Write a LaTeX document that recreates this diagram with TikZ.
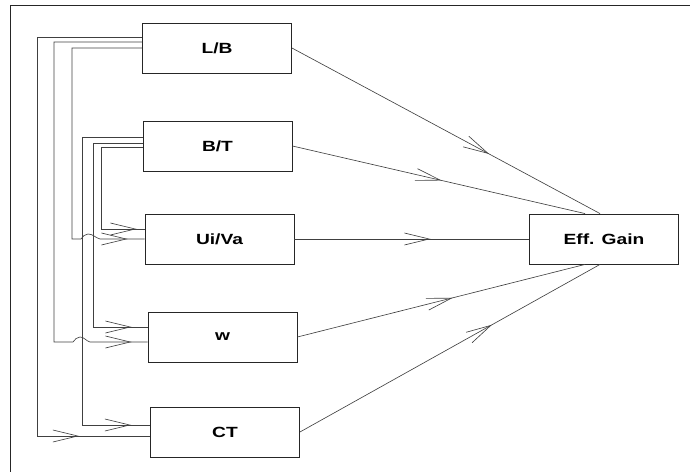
\documentclass[tikz,border=0pt]{standalone}
\usepackage{fontspec}
\newfontfamily\labelfont{Liberation Sans}[FakeStretch=1.3]
\usetikzlibrary{arrows.meta, calc, decorations.markings}

\begin{document}
\begin{tikzpicture}[x=0.025cm, y=-0.025cm,
    box/.style={draw=black!85, line width=0.6pt, minimum width=3.725cm,
        minimum height=1.25cm, inner sep=0pt,
        font=\labelfont\fontsize{10.5}{12}\selectfont\bfseries},
    conn/.style={draw=black!75, line width=0.45pt},
    midarr/.style={postaction={decorate}, decoration={markings,
        mark=at position #1 with {\arrow{Straight Barb[length=0.62cm, width=0.3cm]}}}}]
    \useasboundingbox (0, 0) rectangle (690, 472);

    % the frame, cut off at the right and bottom
    \draw[draw=black!85, line width=0.6pt] (690, 5) -- (10, 5) -- (10, 472);

    % the boxes
    \node[box] (lb) at (217, 48) {L/B};
    \node[box] (bt) at (217.5, 146) {B/T};
    \node[box] (uiva) at (219.5, 239) {Ui/Va};
    \node[box] (w) at (222.5, 337) {w};
    \node[box] (ct) at (225, 432) {CT};
    \node[box] (eff) at (604, 239) {Eff. Gain};

    % lines leaving L/B on the left
    \draw[conn, midarr=-1.775cm]
    ($(lb.west)+(0, -11)$) -| (37, 436) -- ($(ct.west)+(0, 4)$);
    \draw[conn, midarr=-0.4cm]
    ($(lb.west)+(0, -6)$) -| (54, 342) -- (73, 342)
    to[out=50, in=180] (80, 337) to[out=0, in=165] (90, 342)
    -- ($(w.west)+(0, 5)$);
    \draw[conn, midarr=-0.425cm]
    (lb.west) -| (72, 239) -- (81, 239)
    to[out=50, in=180] (88, 234) to[out=0, in=165] (100, 239)
    -- (uiva.west);

    % lines leaving B/T on the left
    \draw[conn, midarr=-0.475cm]
    ($(bt.west)+(0, -9)$) -| (82, 425) -- ($(ct.west)+(0, -7)$);
    \draw[conn, midarr=-0.4cm]
    ($(bt.west)+(0, -3)$) -| (93, 327) -- ($(w.west)+(0, -10)$);
    \draw[conn, midarr=-0.2cm]
    ($(bt.west)+(0, 1)$) -| (101, 229) -- ($(uiva.west)+(0, -10)$);

    % paths into Eff. Gain
    \draw[conn, midarr=0.64] (lb.east) -- ($(eff.north)+(-4, 0)$);
    \draw[conn, midarr=0.51] (bt.east) -- ($(eff.north)+(-19, 0)$);
    \draw[conn, midarr=0.58] (uiva.east) -- (eff.west);
    \draw[conn, midarr=0.54] (w.east) -- ($(eff.south)+(-19, 0)$);
    \draw[conn, midarr=0.64] (ct.east) -- ($(eff.south)+(-4, 0)$);
\end{tikzpicture}
\end{document}
